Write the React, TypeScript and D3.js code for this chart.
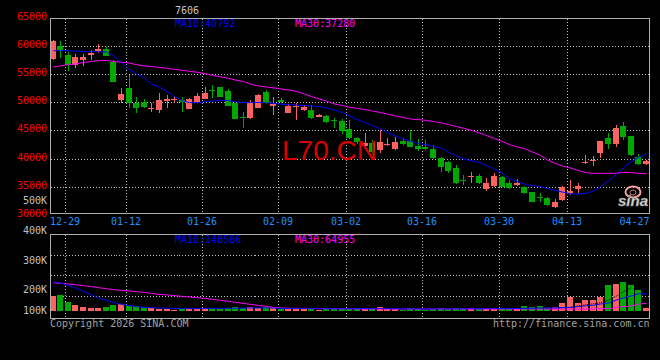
import React from "react";
import * as d3 from "d3";

const dates = [
  "12-25","12-26","12-29","12-30","12-31","01-05","01-06","01-07","01-08","01-09",
  "01-12","01-13","01-14","01-15","01-16","01-19","01-20","01-21","01-22","01-23",
  "01-26","01-27","01-28","01-29","01-30","02-02","02-03","02-04","02-05","02-06",
  "02-09","02-10","02-11","02-12","02-13","02-24","02-25","02-26","02-27","03-02",
  "03-03","03-04","03-05","03-06","03-09","03-10","03-11","03-12","03-13","03-16",
  "03-17","03-18","03-19","03-20","03-23","03-24","03-25","03-26","03-27","03-30",
  "03-31","04-01","04-02","04-03","04-07","04-08","04-09","04-10","04-13","04-14",
  "04-15","04-16","04-17","04-20","04-21","04-22","04-23","04-24","04-27"
];
const tickDates = ["12-29","01-12","01-26","02-09","03-02","03-16","03-30","04-13","04-27"];
const priceTicks = [65000, 60000, 55000, 50000, 45000, 40000, 35000, 30000];
const volTickValues = [400000, 300000, 200000, 100000];
const volTickLabels = ["400K", "300K", "200K", "100K"];

const open = [
  57700,60000,58400,56650,57550,58400,59150,59450,57200,50400,
  52550,49950,50050,48850,48600,50300,50500,50400,48800,50000,
  50600,52150,52750,52000,49800,47350,47150,48930,51880,49420,
  50400,48140,49160,48700,48620,47430,47610,46900,46670,45190,
  43590,42220,42700,41500,42400,41680,43160,43100,42220,42050,
  41630,40030,39330,38250,36120,36650,36880,34510,35150,36750,
  35680,35270,34970,33970,33100,32910,31410,32600,33800,34620,
  39300,39600,40920,43690,42520,45830,44000,40200,39010
];
const high = [
  61000,60900,59000,58600,58550,59300,60400,59900,57500,52500,
  54900,51000,50500,49900,51600,51300,51200,51000,50850,51700,
  52700,53050,52800,52450,49900,48300,50400,51500,52200,50990,
  50750,49700,49820,49500,49500,48000,47800,47200,47000,46840,
  43900,44480,43300,45050,43590,43900,43650,45000,43400,43280,
  42400,40200,39600,38830,37050,37640,37200,36470,37360,36900,
  36160,36290,35100,34100,33900,33100,32730,35100,36160,35680,
  40610,40490,43200,44580,45950,46540,44000,40790,39700
];
const low = [
  57600,57950,55600,56050,56500,57600,58700,58200,53600,49950,
  49000,48100,48900,48300,48050,49050,50000,48350,48750,49900,
  50500,50700,50950,49300,47000,45400,47000,48900,49700,47730,
  49850,48100,46840,48500,47100,47300,46300,45500,44300,43400,
  42600,42090,40650,40900,42220,41500,42400,42000,41400,41500,
  39900,37650,37500,35400,35300,35580,35500,34260,35000,34900,
  34600,35100,33700,32200,32300,31600,31130,32400,33490,33900,
  39010,38660,40030,41630,42090,43280,40500,38900,38900
];
const close = [
  60900,59300,56700,58100,58000,58700,59450,58300,53650,51450,
  49850,49000,49100,48950,50400,50650,50550,50000,50550,51100,
  51600,51950,51000,49350,47050,47300,50100,51300,49820,49690,
  50100,49330,49330,49150,47150,47730,46540,46800,44940,43580,
  42980,42700,41200,42980,42600,42880,42570,42090,41630,41700,
  40030,38420,37730,35580,35980,36930,35680,35680,36880,34970,
  34690,35580,33800,32300,33010,31710,32300,34970,34260,35100,
  39420,39720,43110,42520,45470,43870,40610,39010,39550
];
const volume = [
  130600,139500,77000,50000,33000,27000,27000,36000,50000,59000,
  42000,42000,30000,27000,18000,15000,9000,12000,12000,12000,
  21000,21000,15000,21000,33000,24000,33000,24000,30000,30000,
  12000,14000,11000,13000,18000,10000,18000,20000,20000,19000,
  20000,22000,19000,30000,14000,11000,10000,22000,11000,9000,
  13000,21000,14000,22000,21000,22000,14000,22000,22000,21000,
  21000,22000,40000,31000,40000,28000,37000,66000,120000,66000,
  93000,93000,120000,225000,242000,252000,226000,182000,26000
];
const ma10 = [
  59180,59180,59180,59130,59040,59000,59000,58950,58240,56990,
  55830,55030,54320,53250,52670,51880,51030,50260,49940,49920,
  50100,50230,50370,50300,50100,49920,49960,49960,49940,49830,
  49660,49570,49510,49440,49370,49210,48980,48620,48180,47560,
  46930,46360,45830,45240,44620,44000,43460,43050,42700,42450,
  42160,41860,41150,40440,39900,39600,39280,38750,38120,37360,
  36400,35900,35450,35150,35010,34650,34300,34030,33730,33670,
  33800,34210,34970,36040,37180,38390,39460,40200,40792
];
const ma30 = [
  56280,56490,56720,56810,57080,57260,57440,57440,57260,57120,
  56990,56690,56460,56370,56190,56050,55870,55690,55530,55340,
  55090,54800,54550,54270,53960,53700,53250,52900,52720,52580,
  52360,52180,51950,51470,51030,50580,50230,49690,49430,49120,
  48890,48710,48450,48180,47910,47560,47290,47020,46930,46790,
  46580,46310,46040,45690,45370,45010,44530,44090,43550,43020,
  42480,42040,41740,41150,40560,39720,39100,38660,38300,37860,
  37500,37360,37360,37360,37360,37540,37500,37360,37280
];
const volMa10 = [
  258000,246000,225000,202000,172000,142000,113000,92000,74000,56000,
  45000,36000,29000,27000,24000,21000,20000,19000,19000,19000,
  20000,20000,20000,21000,22000,23000,24000,25000,25000,24000,
  22000,21000,20000,19000,18000,17000,17000,17000,17000,17000,
  18000,18000,18000,19000,18000,17000,16000,16000,16000,15000,
  15000,15000,16000,16000,17000,17000,17000,18000,18000,19000,
  19000,19000,21000,22000,24000,24000,25000,27000,29000,37000,
  43000,49000,59000,69000,95000,114000,131000,151000,148586
];
const volMa30 = [
  249000,243000,238000,231000,223000,214000,205000,196000,187000,181000,
  175000,169000,163000,154000,145000,140000,134000,127000,122000,116000,
  109000,101000,92000,83000,74000,65000,56000,47000,38000,29000,
  24000,22000,21000,20000,20000,19000,19000,18000,17000,16000,
  16000,16000,15000,15000,15000,15000,15000,15000,15000,15000,
  15000,15000,15000,15000,15000,15000,15000,15000,15000,15000,
  15000,15000,15000,15000,15000,15000,15000,15000,15000,15000,
  15000,16000,18000,18000,29000,36000,42000,59000,64955
];
// dark dotted volume average, visible only over the recent bars (index 65..76)
const volDarkStart = 65;
const volDark = [22000,24000,27000,30000,44000,53000,62000,71000,95000,130000,169000,208000];

const UP = "#ff6060";
const DOWN = "#00a800";
const MA10C = "#0000ff";
const MA30C = "#ff00ff";
const GRID = "#c0c0c0";
const BORDER = "#b0b0b0";
const MONO = "'DejaVu Sans Mono', monospace";

export default function App() {
  const n = dates.length;
  const x = d3.scaleLinear().domain([0, n - 1]).range([52.5, 646.1]);
  const y = d3.scaleLinear().domain([30000, 65000]).range([214.7, 18]);
  const yv = d3.scaleLinear().domain([0, 1000000]).range([310.7, 198.34]);
  const volLabelY = d3.scaleLinear().domain([400000, 200000]).range([234, 293.3]);
  const volGrid = d3.scaleLinear().domain([0, 4]).range([234.3, 316.3]);

  const L = 50.5, R = 649.5, PT = 18.5, PB = 213.5, VT = 234.5, VB = 318.5;
  const px = (i: number) => Math.round(x(i));
  const mkLine = (arr: number[], sc: (v: number) => number, offset = 0) =>
    d3.line<number>().x((_, i) => px(i + offset) + 0.5).y((d) => sc(d))(arr) || "";

  const gridXs = tickDates.slice(0, -1).map((t) => px(dates.indexOf(t)) - 3 + 0.5);
  const hGrid = priceTicks.slice(1, -1).map((v) => Math.round(y(v)) + 0.5);
  const vGrid = [1, 2, 3].map((k) => Math.round(volGrid(k)) + 0.5);

  return (
    <svg width={660} height={360} style={{ position: "absolute", left: 0, top: 0, display: "block" }}>
      <rect x={0} y={0} width={660} height={360} fill="#000" />
      {/* grid */}
      <g stroke={GRID} strokeWidth={1} strokeDasharray="1,2" shapeRendering="crispEdges">
        {hGrid.map((gy, k) => <line key={"h" + k} x1={L} x2={R} y1={gy} y2={gy} />)}
        {vGrid.map((gy, k) => <line key={"v" + k} x1={L} x2={R} y1={gy} y2={gy} />)}
        {gridXs.map((gx, k) => (
          <g key={"x" + k}>
            <line x1={gx} x2={gx} y1={PT} y2={PB} />
            <line x1={gx} x2={gx} y1={VT} y2={VB} />
          </g>
        ))}
      </g>

      {/* volume bars */}
      <g shapeRendering="crispEdges">
        {volume.map((v, i) => {
          const top = yv(v);
          const base = yv(0);
          return (
            <rect key={i} x={px(i) - 3} y={top} width={6} height={Math.max(1, base - top)}
              fill={close[i] >= open[i] ? UP : DOWN} />
          );
        })}
      </g>
      <path d={mkLine(volDark, yv, volDarkStart)} fill="none" stroke="#000" strokeWidth={1} strokeDasharray="1,1" />
      <path d={mkLine(volMa30, yv)} fill="none" stroke={MA30C} strokeWidth={1} />
      <path d={mkLine(volMa10, yv)} fill="none" stroke={MA10C} strokeWidth={1} />

      {/* candles */}
      <g shapeRendering="crispEdges">
        {open.map((o, i) => {
          const c = close[i];
          const up = c >= o;
          const col = up ? UP : DOWN;
          const cx = px(i);
          const yTop = y(Math.max(o, c));
          const yBot = y(Math.min(o, c));
          return (
            <g key={i}>
              <line x1={cx + 0.5} x2={cx + 0.5} y1={y(high[i])} y2={y(low[i])} stroke={col} strokeWidth={1} />
              <rect x={cx - 3} y={yTop} width={6} height={Math.max(1, yBot - yTop)} fill={col} />
            </g>
          );
        })}
      </g>

      {/* watermark */}
      <text x={282} y={160} fontFamily="'Liberation Sans', Arial, sans-serif" fontSize={28} fill="#d80000">L70.CN</text>

      {/* price MA lines */}
      <path d={mkLine(ma30, y)} fill="none" stroke={MA30C} strokeWidth={1} />
      <path d={mkLine(ma10, y)} fill="none" stroke={MA10C} strokeWidth={1} />

      {/* sina logo */}
      <g>
        <ellipse cx={633} cy={192} rx={7.5} ry={5.5} fill="none" stroke="#f4a0a0" strokeWidth={2} />
        <ellipse cx={633} cy={192.5} rx={3} ry={2.5} fill="none" stroke="#c08080" strokeWidth={1} />
        <text x={618} y={206} fontFamily="'Liberation Sans', Arial, sans-serif" fontStyle="italic" fontWeight="bold"
          fontSize={15} fill="#dcdcdc" stroke="#808080" strokeWidth={0.5}>sina</text>
      </g>

      {/* borders */}
      <g fill="none" stroke={BORDER} strokeWidth={1} shapeRendering="crispEdges">
        <rect x={L} y={PT} width={R - L} height={PB - PT} />
        <rect x={L} y={VT} width={R - L} height={VB - VT} />
      </g>

      {/* labels */}
      <g fontFamily={MONO} fontSize={10}>
        {priceTicks.map((v) => (
          <text key={v} x={47} y={Math.round(y(v)) + (v === 30000 ? 1.5 : 1.8)} textAnchor="end" fill="#ff0000">{v}</text>
        ))}
        <text x={47} y={204} textAnchor="end" fill="#c0c0c0">500K</text>
        {volTickValues.map((v, k) => (
          <text key={v} x={47} y={Math.min(volLabelY(v), yv(0) + 3.3)} textAnchor="end" fill="#c0c0c0">{volTickLabels[k]}</text>
        ))}
        {tickDates.map((t, k) => {
          const last = k === tickDates.length - 1;
          const gx = px(dates.indexOf(t)) - 3;
          return (
            <text key={t} x={last ? 649.5 : gx} y={225} textAnchor={last ? "end" : "middle"} fill="#1e90ff">{t}</text>
          );
        })}
        <text x={175} y={27} fill={MA10C}>{"MA10:" + ma10[n - 1]}</text>
        <text x={295} y={27} fill={MA30C}>{"MA30:" + ma30[n - 1]}</text>
        <text x={175} y={242.5} fill={MA10C}>{"MA10:" + volMa10[n - 1]}</text>
        <text x={295} y={242.5} fill={MA30C}>{"MA30:" + volMa30[n - 1]}</text>
        <text x={175} y={13.5} fill="#c8c8c8">7606</text>
        <text x={50} y={327} fill="#a0a0a0">Copyright 2026 SINA.COM</text>
        <text x={649.5} y={327} textAnchor="end" fill="#a0a0a0">http://finance.sina.com.cn</text>
      </g>
    </svg>
  );
}
